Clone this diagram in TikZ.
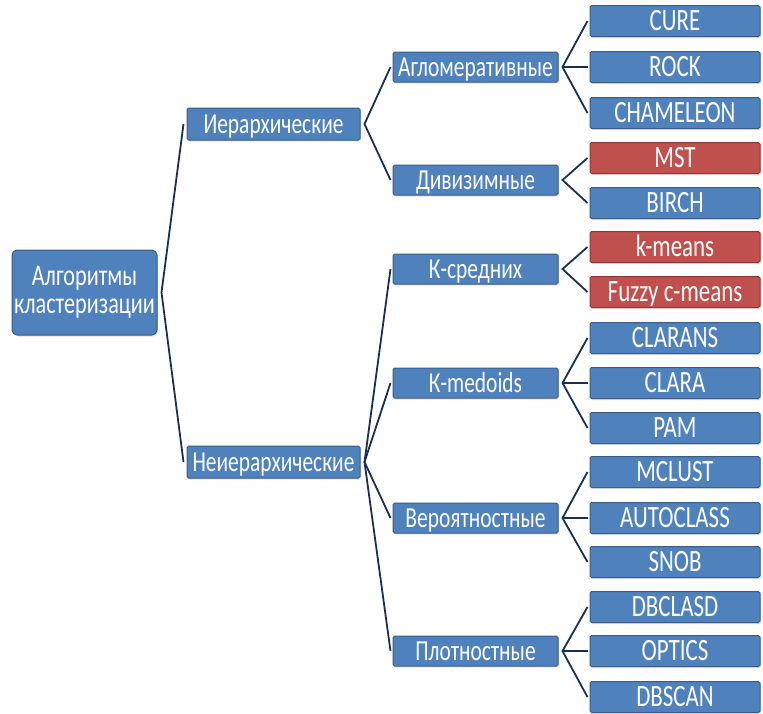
\documentclass[tikz,border=0pt]{standalone}
\usepackage{fontspec}
\setmainfont[FakeStretch=0.74]{Carlito}
\usetikzlibrary{shadows}
\definecolor{bfill}{HTML}{4F81BD}
\definecolor{bdraw}{HTML}{385D8A}
\definecolor{rfill}{HTML}{C0504D}
\definecolor{rdraw}{HTML}{8C3836}
\definecolor{conn}{HTML}{1B2F52}
\begin{document}
\begin{tikzpicture}[x=1pt,y=-1pt,
  box/.style={draw=bdraw,fill=bfill,line width=1pt,rounded corners=1.5pt,text=white,
    inner sep=0pt,align=center,font=\fontsize{29}{30}\selectfont,
    drop shadow={opacity=0.25,shadow xshift=1pt,shadow yshift=-1.5pt}},
  single/.style={box,text height=20pt,text depth=2pt},
  leaf/.style={single,minimum width=170pt,minimum height=31pt,font=\fontsize{31}{32}\selectfont},
  rleaf/.style={leaf,draw=rdraw,fill=rfill},
  mid/.style={single,minimum width=165pt,minimum height=30pt},
  lvl/.style={single,minimum width=173pt,minimum height=32pt},
  root/.style={box,minimum width=145pt,minimum height=85pt,rounded corners=5pt,font=\fontsize{30}{28}\selectfont},
  link/.style={draw=conn,line width=1.8pt,line join=miter}]
\useasboundingbox (0,0) rectangle (763,713);
\node[root] (root) at (84.5,292.5) {Алгоритмы\\кластеризации};
\node[lvl] (h1) at (273.5,124) {Иерархические};
\node[lvl] (h2) at (273.5,462) {Неиерархические};
\node[mid] (m1) at (475.5,67) {Агломеративные};
\node[mid] (m2) at (475.5,180) {Дивизимные};
\node[mid] (m3) at (475.5,269) {К-средних};
\node[mid] (m4) at (475.5,383) {К-medoids};
\node[mid] (m5) at (475.5,518) {Вероятностные};
\node[mid] (m6) at (475.5,651) {Плотностные};
\node[leaf] (l1) at (675,21) {CURE};
\node[leaf] (l2) at (675,67) {ROCK};
\node[leaf] (l3) at (675,113) {CHAMELEON};
\node[rleaf] (l4) at (675,158) {MST};
\node[leaf] (l5) at (675,203) {BIRCH};
\node[rleaf] (l6) at (675,247) {k-means};
\node[rleaf] (l7) at (675,292) {Fuzzy c-means};
\node[leaf] (l8) at (675,338) {CLARANS};
\node[leaf] (l9) at (675,383) {CLARA};
\node[leaf] (l10) at (675,428) {PAM};
\node[leaf] (l11) at (675,472) {MCLUST};
\node[leaf] (l12) at (675,518) {AUTOCLASS};
\node[leaf] (l13) at (675,562) {SNOB};
\node[leaf] (l14) at (675,607) {DBCLASD};
\node[leaf] (l15) at (675,651) {OPTICS};
\node[leaf] (l16) at (675,697) {DBSCAN};
% connectors
\draw[link] ([xshift=-3pt]h1.west) -- ([xshift=4pt]root.east) -- ([xshift=-3pt]h2.west);
\draw[link] ([xshift=-2pt]m1.west) -- ([xshift=4pt]h1.east) -- ([xshift=-2pt]m2.west);
\draw[link] ([xshift=-2pt]m3.west) -- ([xshift=4pt]h2.east) -- ([xshift=-2pt]m6.west);
\draw[link] ([xshift=-2pt]m4.west) -- ([xshift=4pt]h2.east) -- ([xshift=-2pt]m5.west);
\draw[link] ([xshift=-2pt]l1.west) -- ([xshift=4pt]m1.east) -- ([xshift=-2pt]l3.west);
\draw[link] ([xshift=4pt]m1.east) -- ([xshift=-2pt]l2.west);
\draw[link] ([xshift=-2pt]l4.west) -- ([xshift=4pt]m2.east) -- ([xshift=-2pt]l5.west);
\draw[link] ([xshift=-2pt]l6.west) -- ([xshift=4pt]m3.east) -- ([xshift=-2pt]l7.west);
\draw[link] ([xshift=-2pt]l8.west) -- ([xshift=4pt]m4.east) -- ([xshift=-2pt]l10.west);
\draw[link] ([xshift=4pt]m4.east) -- ([xshift=-2pt]l9.west);
\draw[link] ([xshift=-2pt]l11.west) -- ([xshift=4pt]m5.east) -- ([xshift=-2pt]l13.west);
\draw[link] ([xshift=4pt]m5.east) -- ([xshift=-2pt]l12.west);
\draw[link] ([xshift=-2pt]l14.west) -- ([xshift=4pt]m6.east) -- ([xshift=-2pt]l16.west);
\draw[link] ([xshift=4pt]m6.east) -- ([xshift=-2pt]l15.west);
\end{tikzpicture}
\end{document}
